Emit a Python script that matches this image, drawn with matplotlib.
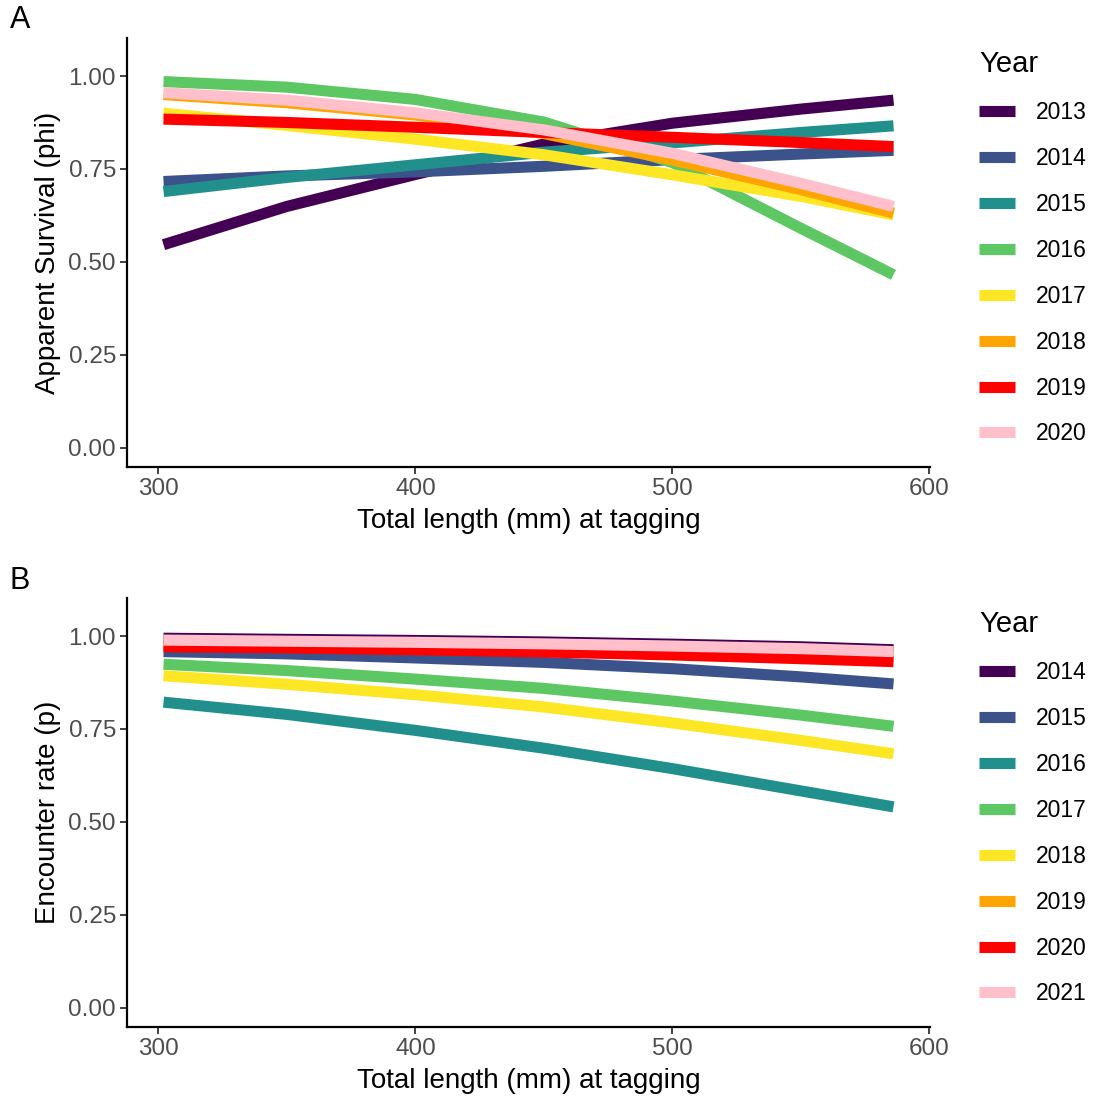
import matplotlib.pyplot as plt
from matplotlib.lines import Line2D

plt.rcParams['font.family'] = ['Liberation Sans', 'DejaVu Sans']

# x positions where values were read (total length, mm)
comprimento = [302, 350, 400, 450, 500, 550, 586]

# Painel A - apparent survival (phi)
anos_phi = ['2013', '2014', '2015', '2016', '2017', '2018', '2019', '2020']
phi_2013 = [0.546, 0.649, 0.735, 0.817, 0.873, 0.911, 0.935]
phi_2014 = [0.716, 0.731, 0.742, 0.757, 0.775, 0.790, 0.800]
phi_2015 = [0.689, 0.727, 0.761, 0.795, 0.820, 0.848, 0.866]
phi_2016 = [0.985, 0.970, 0.937, 0.876, 0.767, 0.590, 0.465]
phi_2017 = [0.900, 0.867, 0.830, 0.788, 0.734, 0.676, 0.626]
phi_2018 = [0.950, 0.928, 0.895, 0.845, 0.774, 0.694, 0.631]
phi_2019 = [0.884, 0.875, 0.862, 0.848, 0.835, 0.821, 0.810]
phi_2020 = [0.955, 0.935, 0.901, 0.855, 0.792, 0.711, 0.649]
series_phi = [phi_2013, phi_2014, phi_2015, phi_2016, phi_2017, phi_2018, phi_2019, phi_2020]

# Painel B - encounter rate (p)
anos_p = ['2014', '2015', '2016', '2017', '2018', '2019', '2020', '2021']
p_2014 = [0.994, 0.991, 0.988, 0.984, 0.978, 0.971, 0.963]
p_2015 = [0.958, 0.952, 0.941, 0.929, 0.912, 0.890, 0.871]
p_2016 = [0.822, 0.789, 0.746, 0.698, 0.643, 0.583, 0.540]
p_2017 = [0.924, 0.907, 0.884, 0.859, 0.825, 0.787, 0.757]
p_2018 = [0.893, 0.870, 0.842, 0.809, 0.766, 0.719, 0.683]
p_2019 = [0.980, 0.976, 0.970, 0.966, 0.959, 0.952, 0.945]
p_2020 = [0.971, 0.968, 0.963, 0.957, 0.949, 0.939, 0.931]
p_2021 = [0.989, 0.986, 0.983, 0.979, 0.973, 0.966, 0.958]
series_p = [p_2014, p_2015, p_2016, p_2017, p_2018, p_2019, p_2020, p_2021]

cores = ['#440154', '#3B528B', '#21908C', '#5DC863', '#FDE725', '#FFA500', '#FF0000', '#FFC0CB']

fig = plt.figure(figsize=(10.94, 11.03), dpi=100)
ax1 = fig.add_axes([0.1161, 0.5766, 0.734, 0.389])
ax2 = fig.add_axes([0.1161, 0.0689, 0.734, 0.389])


def desenha(ax, series, anos, ylabel):
    for vals, cor in zip(series, cores):
        ax.plot(comprimento, vals, color=cor, linewidth=8, solid_capstyle='butt',
                solid_joinstyle='round')
    ax.set_xlim(287.8, 600.2)
    ax.set_ylim(-0.0525, 1.1025)
    ax.set_xticks([300, 400, 500, 600])
    ax.set_yticks([0, 0.25, 0.5, 0.75, 1.0])
    ax.set_yticklabels(['0.00', '0.25', '0.50', '0.75', '1.00'])
    for s in ['top', 'right']:
        ax.spines[s].set_visible(False)
    for s in ['left', 'bottom']:
        ax.spines[s].set_linewidth(1.6)
        ax.spines[s].set_color('black')
    ax.tick_params(axis='both', labelsize=17.5, labelcolor='#4D4D4D', color='#333333',
                   width=1.3, length=5, pad=3)
    ax.set_xlabel('Total length (mm) at tagging', fontsize=20, color='black', labelpad=6)
    ax.set_ylabel(ylabel, fontsize=20, color='black', labelpad=5)
    handles = [Line2D([0], [0], color=c, linewidth=8, solid_capstyle='butt') for c in cores]
    leg = ax.legend(handles, anos, title='Year', loc='upper left',
                    bbox_to_anchor=(1.041, 1.009), frameon=False, fontsize=16.5,
                    title_fontsize=21, handlelength=1.57, handletextpad=0.92,
                    labelspacing=1.0, alignment='left', borderaxespad=0.3)
    return leg


desenha(ax1, series_phi, anos_phi, 'Apparent Survival (phi)')
desenha(ax2, series_p, anos_p, 'Encounter rate (p)')

fig.text(0.009, 0.982, 'A', fontsize=22, va='center', ha='left')
fig.text(0.009, 0.473, 'B', fontsize=22, va='center', ha='left')

fig.savefig('out.png', dpi=100)
